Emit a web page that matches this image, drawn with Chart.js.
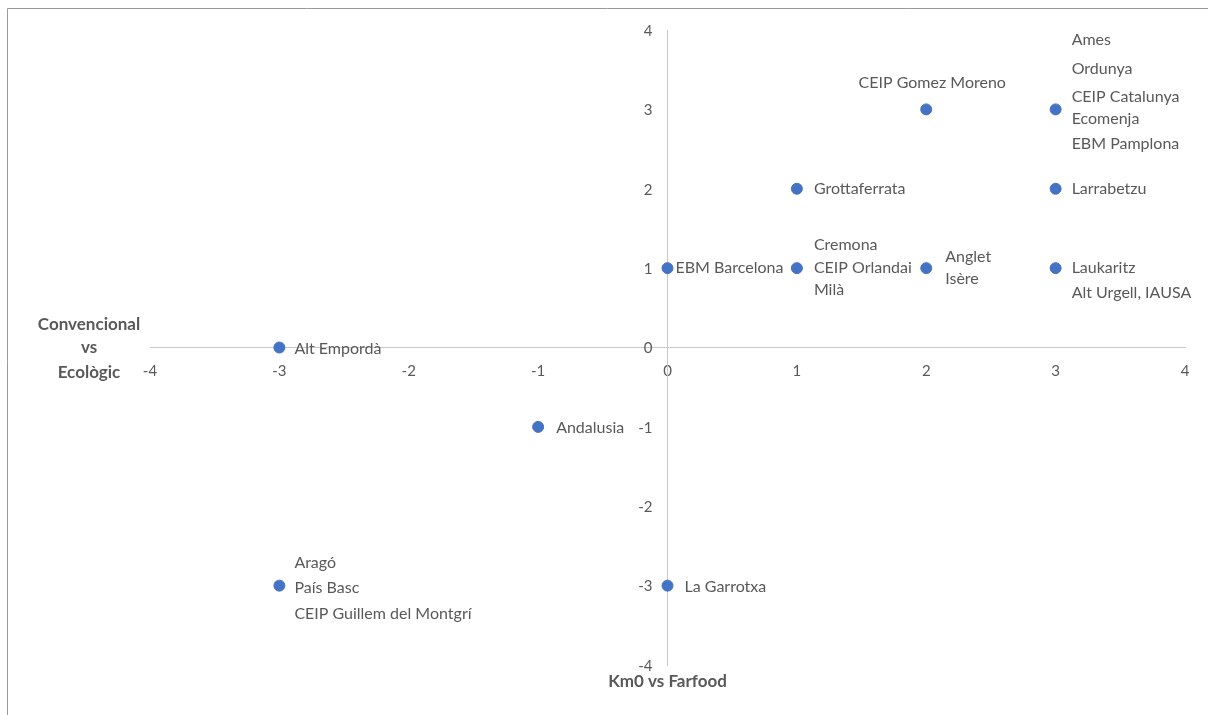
<!DOCTYPE html>
<html>
<head>
<meta charset="utf-8">
<script src="https://cdn.jsdelivr.net/npm/chart.js@4"></script>
<style>
  html, body { margin: 0; padding: 0; background: #fff; }
  #wrap { width: 1208px; height: 715px; position: relative; }
</style>
</head>
<body>
<div id="wrap"><canvas id="scatterChart" width="1208" height="715"></canvas></div>
<script>
// Km0 vs Farfood (x) / Convencional vs Ecològic (y)
var xValues = [2, 3, 1, 3, 0, 1, 2, 3, -3, -1, -3, 0];
var yValues = [3, 3, 2, 2, 1, 1, 1, 1, 0, -1, -3, -3];
var pointLabels = [
    ['CEIP Gomez Moreno'],
    ['Ames', 'Ordunya', 'CEIP Catalunya', 'Ecomenja', 'EBM Pamplona'],
    ['Grottaferrata'],
    ['Larrabetzu'],
    ['EBM Barcelona'],
    ['Cremona', 'CEIP Orlandai', 'Milà'],
    ['Anglet', 'Isère'],
    ['Laukaritz', 'Alt Urgell, IAUSA'],
    ['Alt Empordà'],
    ['Andalusia'],
    ['Aragó', 'País Basc', 'CEIP Guillem del Montgrí'],
    ['La Garrotxa']
];
var tickValues = [-4, -3, -2, -1, 0, 1, 2, 3, 4];
var xTitle = 'Km0 vs Farfood';
var yTitle = ['Convencional', 'vs', 'Ecològic'];

// where each label block sits next to its point (pixels)
var labelLayout = [
    {dx: 6, dy: [-27], align: 'center'},
    {dx: 16, dy: [-70, -41, -13, 9, 34]},
    {dx: 17, dy: [0]},
    {dx: 16, dy: [0]},
    {dx: 8, dy: [0]},
    {dx: 17, dy: [-23, 0, 22]},
    {dx: 19, dy: [-11, 11]},
    {dx: 16, dy: [0, 25]},
    {dx: 15, dy: [1]},
    {dx: 18, dy: [1]},
    {dx: 15, dy: [-23, 2, 28]},
    {dx: 17, dy: [1]}
];

var textColor = '#595959';
var fontFamily = 'Lato, "Open Sans", sans-serif';

var labelPlugin = {
    id: 'pointLabels',
    afterDatasetsDraw: function (chart) {
        var ctx = chart.ctx;
        var xs = chart.scales.x, ys = chart.scales.y;
        ctx.save();
        ctx.fillStyle = textColor;
        ctx.textBaseline = 'middle';

        // y tick labels, left of the vertical axis
        ctx.font = '15px ' + fontFamily;
        ctx.textAlign = 'right';
        var xAxisPx = xs.getPixelForValue(0);
        tickValues.forEach(function (v) {
            ctx.fillText(String(v), xAxisPx - 15, ys.getPixelForValue(v) + 1);
        });

        ctx.font = '16px ' + fontFamily;
        for (var i = 0; i < xValues.length; i++) {
            var px = xs.getPixelForValue(xValues[i]);
            var py = ys.getPixelForValue(yValues[i]);
            var lay = labelLayout[i];
            ctx.textAlign = lay.align || 'left';
            for (var j = 0; j < pointLabels[i].length; j++) {
                ctx.fillText(pointLabels[i][j], px + lay.dx, py + lay.dy[j]);
            }
        }
        // axis titles
        ctx.font = 'bold 17px ' + fontFamily;
        ctx.textAlign = 'center';
        var area = chart.chartArea;
        var y0 = ys.getPixelForValue(0);
        var tx = area.left - 61;
        ctx.fillText(yTitle[0], tx, y0 - 23);
        ctx.fillText(yTitle[1], tx, y0);
        ctx.fillText(yTitle[2], tx, y0 + 25);
        ctx.fillText(xTitle, xAxisPx, area.bottom + 17);
        // outer frame (top + left edges)
        ctx.strokeStyle = '#9a9a9a';
        ctx.lineWidth = 1;
        ctx.beginPath();
        ctx.moveTo(7.5, 715);
        ctx.lineTo(7.5, 8.5);
        ctx.lineTo(1208, 8.5);
        ctx.stroke();
        ctx.restore();
    }
};

var ctx = document.getElementById('scatterChart');
var chart = new Chart(ctx, {
    type: 'scatter',
    data: {
        datasets: [{
            label: 'Series',
            data: xValues.map(function (x, i) { return {x: x, y: yValues[i]}; }),
            backgroundColor: '#4472C4',
            borderColor: '#4472C4',
            pointRadius: 5.5,
            pointHoverRadius: 5.5
        }]
    },
    options: {
        responsive: false,
        animation: false,
        layout: {padding: {left: 150, top: 30, right: 23, bottom: 50}},
        plugins: {legend: {display: false}, tooltip: {enabled: false}},
        scales: {
            x: {
                type: 'linear',
                position: {y: 0},
                min: -4, max: 4,
                afterBuildTicks: function (axis) {
                    axis.ticks = tickValues.map(function (v) { return {value: v}; });
                },
                grid: {display: false, drawTicks: false},
                border: {display: true, color: '#c8c8c8', width: 1},
                ticks: {color: textColor, padding: 15, maxRotation: 0, autoSkip: false,
                        font: {family: fontFamily, size: 15}}
            },
            y: {
                type: 'linear',
                position: {x: 0},
                min: -4, max: 4,
                afterBuildTicks: function (axis) {
                    axis.ticks = tickValues.map(function (v) { return {value: v}; });
                },
                grid: {display: false, drawTicks: false},
                border: {display: true, color: '#c8c8c8', width: 1},
                // labels drawn by the plugin (Chart.js ignores padding on centred axes)
                ticks: {display: false}
            }
        }
    },
    plugins: [labelPlugin]
});
</script>
</body>
</html>
